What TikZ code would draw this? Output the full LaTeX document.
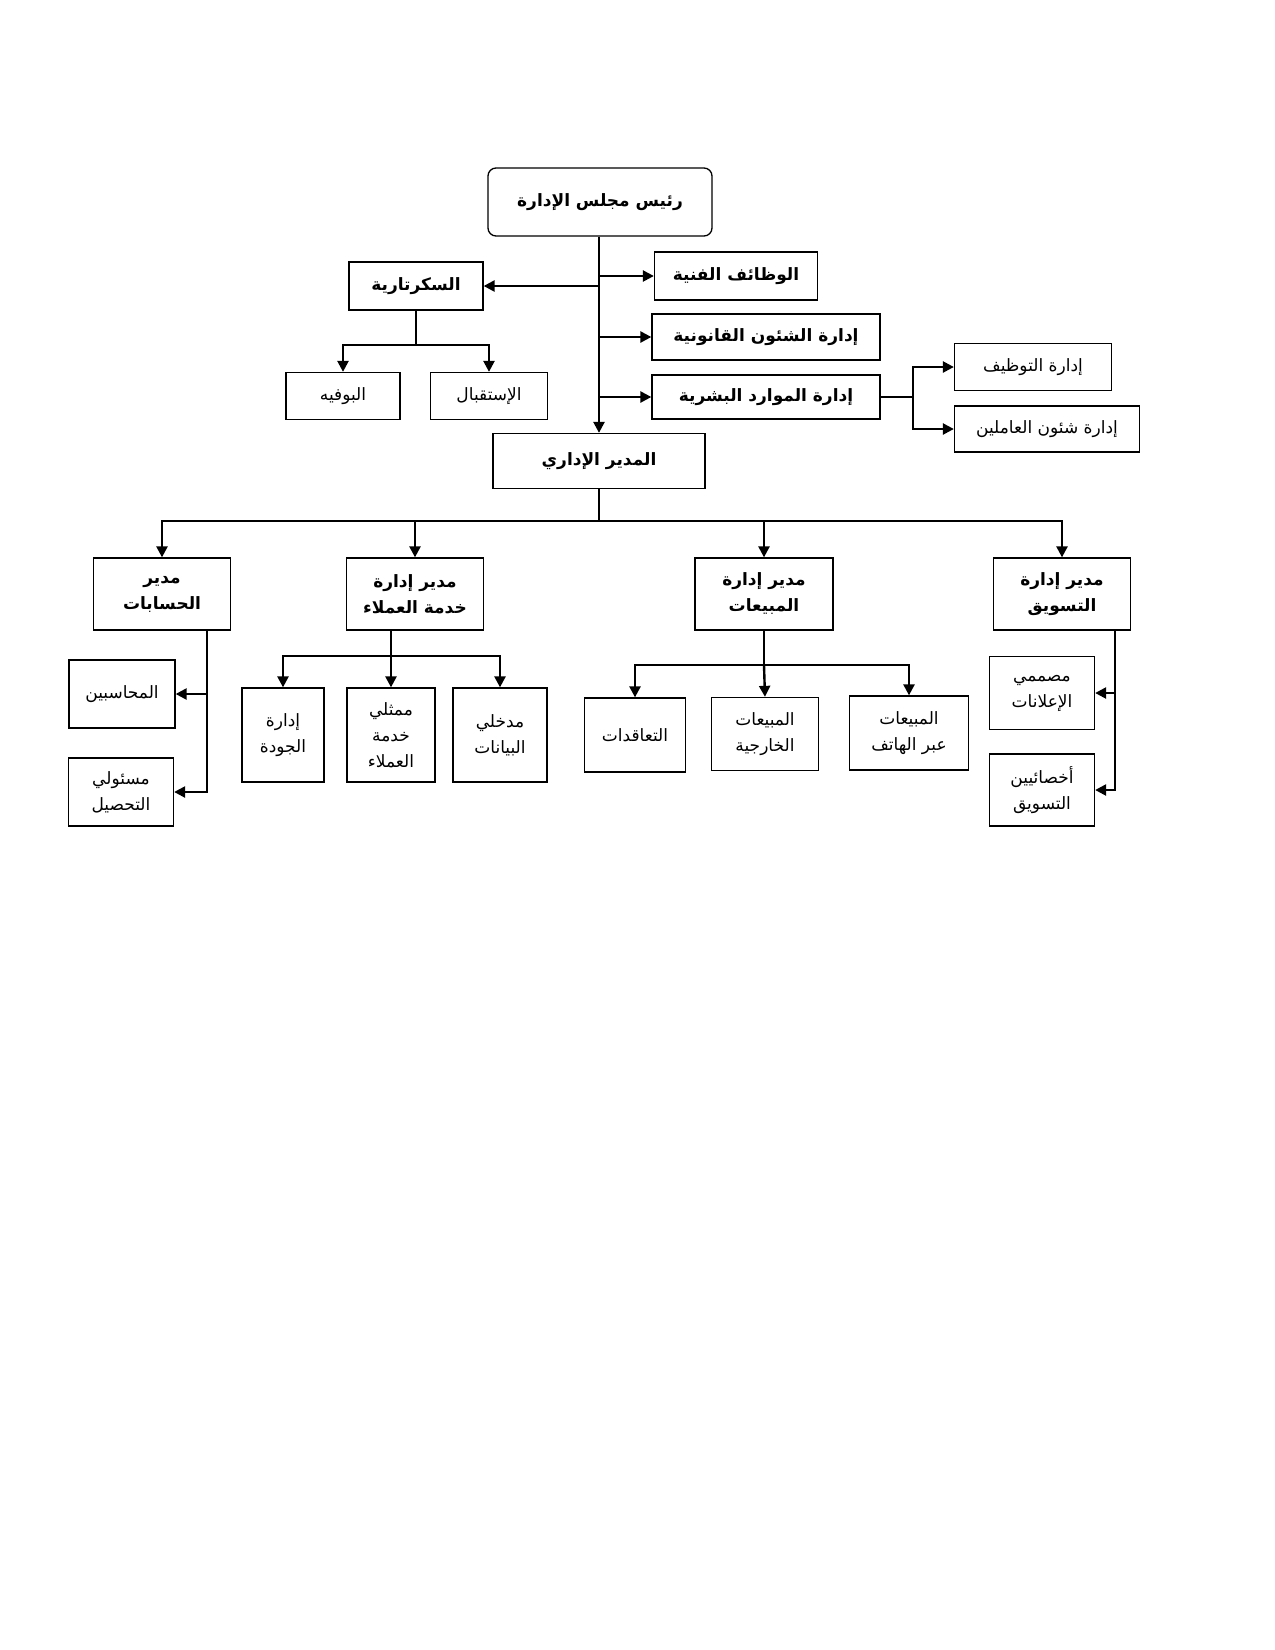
\documentclass[tikz,border=0pt]{standalone}
\usepackage{fontspec}
\usetikzlibrary{arrows.meta}
\newfontfamily\arabicfont[Script=Arabic]{DejaVu Sans}
\TeXXeTstate=1
\newcommand{\ar}[1]{\beginR #1\endR}

\tikzset{
  box/.style={draw, line width=1.3pt, align=center, inner sep=2pt,
    font=\arabicfont\fontsize{17}{26}\selectfont},
  main/.style={box, font=\arabicfont\bfseries\fontsize{17}{26}\selectfont},
  arr/.style={line width=2.4pt, -{Triangle[length=11pt,width=11pt]}},
  ln/.style={line width=2.4pt},
}

\begin{document}
\begin{tikzpicture}[x=1pt,y=-1pt]
  \useasboundingbox (0,0) rectangle (1275,1650);
  % top levels
  \node[main, rounded corners=8pt, minimum width=224pt, minimum height=68pt] (chair) at (600,202) {\ar{رئيس مجلس الإدارة}};
  \node[main, minimum width=163pt, minimum height=48pt] (tech) at (736,276) {\ar{الوظائف الفنية}};
  \node[main, minimum width=228pt, minimum height=46pt] (legal) at (766,337) {\ar{إدارة الشئون القانونية}};
  \node[main, minimum width=228pt, minimum height=44pt] (hr) at (766,397) {\ar{إدارة الموارد البشرية}};
  \node[main, minimum width=134pt, minimum height=48pt] (sec) at (416,286) {\ar{السكرتارية}};
  \node[box, minimum width=114pt, minimum height=47pt] (buffet) at (343,396) {\ar{البوفيه}};
  \node[box, minimum width=117pt, minimum height=47pt] (recep) at (489,396) {\ar{الإستقبال}};
  \node[box, minimum width=157pt, minimum height=47pt] (hire) at (1033,367) {\ar{إدارة التوظيف}};
  \node[box, minimum width=185pt, minimum height=46pt] (staff) at (1047,429) {\ar{إدارة شئون العاملين}};
  \node[main, minimum width=212pt, minimum height=55pt] (admin) at (599,461) {\ar{المدير الإداري}};
  % managers
  \node[main, minimum width=137pt, minimum height=72pt] (acc) at (162,594) {\ar{مدير}\\\ar{الحسابات}};
  \node[main, minimum width=137pt, minimum height=72pt] (cs) at (415,594) {\ar{مدير إدارة}\\\ar{خدمة العملاء}};
  \node[main, minimum width=138pt, minimum height=72pt] (sales) at (764,594) {\ar{مدير إدارة}\\\ar{المبيعات}};
  \node[main, minimum width=137pt, minimum height=72pt] (mkt) at (1062,594) {\ar{مدير إدارة}\\\ar{التسويق}};
  % staff
  \node[box, minimum width=106pt, minimum height=68pt] (accnt) at (122,694) {\ar{المحاسبين}};
  \node[box, minimum width=105pt, minimum height=68pt] (coll) at (121,792) {\ar{مسئولي}\\\ar{التحصيل}};
  \node[box, minimum width=82pt, minimum height=94pt] (qual) at (283,735) {\ar{إدارة}\\\ar{الجودة}};
  \node[box, minimum width=88pt, minimum height=94pt] (rep) at (391,735) {\ar{ممثلي}\\\ar{خدمة}\\\ar{العملاء}};
  \node[box, minimum width=94pt, minimum height=94pt] (data) at (500,735) {\ar{مدخلي}\\\ar{البيانات}};
  \node[box, minimum width=101pt, minimum height=74pt] (contr) at (635,735) {\ar{التعاقدات}};
  \node[box, minimum width=107pt, minimum height=73pt] (ext) at (765,734) {\ar{المبيعات}\\\ar{الخارجية}};
  \node[box, minimum width=119pt, minimum height=74pt] (phone) at (909,733) {\ar{المبيعات}\\\ar{عبر الهاتف}};
  \node[box, minimum width=105pt, minimum height=73pt] (ads) at (1042,693) {\ar{مصممي}\\\ar{الإعلانات}};
  \node[box, minimum width=105pt, minimum height=72pt] (spec) at (1042,790) {\ar{أخصائيين}\\\ar{التسويق}};
  % junctions
  \coordinate (secj) at (416,345);
  \coordinate (hrj) at (913,397);
  \coordinate (midj) at (599,521);
  \coordinate (csj) at (391,656);
  \coordinate (salj) at (764,665);
  \coordinate (accj) at (207,630);
  \coordinate (mktj) at (1115,630);
  % connectors
  \draw[arr] (chair.south -| admin.north) -- (admin.north);
  \draw[arr] (admin.north |- tech.west) -- (tech.west);
  \draw[arr] (admin.north |- legal.west) -- (legal.west);
  \draw[arr] (admin.north |- hr.west) -- (hr.west);
  \draw[arr] (admin.north |- sec.east) -- (sec.east);
  \draw[ln] (sec.south) -- (secj);
  \draw[arr] (secj) -| (buffet.north);
  \draw[arr] (secj) -| (recep.north);
  \draw[ln] (hr.east) -- (hrj);
  \draw[arr] (hrj) |- (hire.west);
  \draw[arr] (hrj) |- (staff.west);
  \draw[ln] (admin.south) -- (midj);
  \draw[arr] (midj) -| (acc.north);
  \draw[arr] (midj) -| (cs.north);
  \draw[arr] (midj) -| (sales.north);
  \draw[arr] (midj) -| (mkt.north);
  \draw[arr] (accj) |- (accnt.east);
  \draw[arr] (accj) |- (coll.east);
  \draw[ln] (cs.south -| csj) -- (csj);
  \draw[arr] (csj) -| (qual.north);
  \draw[arr] (csj) -- (rep.north);
  \draw[arr] (csj) -| (data.north);
  \draw[ln] (sales.south) -- (salj);
  \draw[arr] (salj) -| (contr.north);
  \draw[arr] (salj) -- (ext.north);
  \draw[arr] (salj) -| (phone.north);
  \draw[arr] (mktj) |- (ads.east);
  \draw[arr] (mktj) |- (spec.east);
\end{tikzpicture}
\end{document}
